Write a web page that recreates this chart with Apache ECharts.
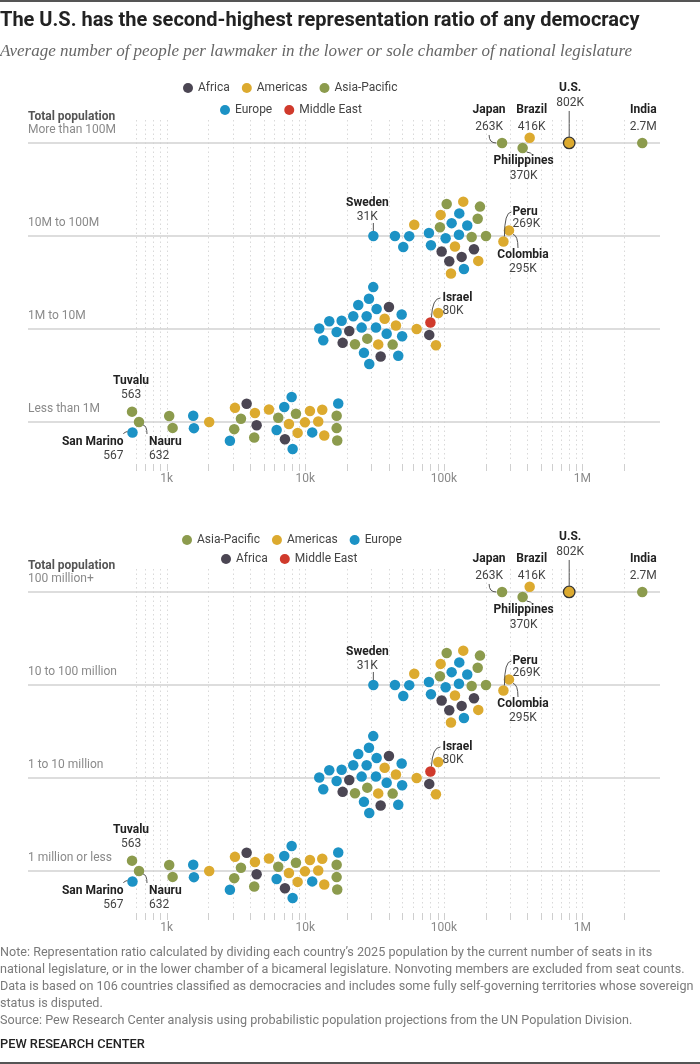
<!DOCTYPE html>
<html>
<head>
<meta charset="utf-8">
<script src="https://cdn.jsdelivr.net/npm/echarts@6/dist/echarts.min.js"></script>
<style>
  html, body { margin: 0; padding: 0; background: #fff; }
  #chart { width: 700px; height: 1064px; }
</style>
</head>
<body>
<div id="chart"></div>
<script>
// regions and colours
const regionNames = ['Africa', 'Americas', 'Asia-Pacific', 'Europe', 'Middle East'];
const regionColors = ['#4b4653', '#dcaa2f', '#8c9b4d', '#1c92c5', '#d03a2c'];

// row labels (0 = largest countries)
const rowLabelsTop = ['More than 100M', '10M to 100M', '1M to 10M', 'Less than 1M'];
const rowLabelsBottom = ['100 million+', '10 to 100 million', '1 to 10 million', '1 million or less'];

// each dot: [people per lawmaker, population row]
const africa = [
  [96400, 1], [109400, 1], [134400, 1], [164900, 1],
  [18615, 2], [20775, 2], [40175, 2], [34990, 2], [78470, 2],
  [3778, 3], [4460, 3], [7138, 3]
];
const americas = [
  [416000, 0], [802000, 0],
  [61150, 1], [94820, 1], [120250, 1], [177100, 1], [112500, 1], [138000, 1], [269000, 1], [295000, 1],
  [37410, 2], [45115, 2], [63640, 2], [33625, 2], [91100, 2], [87700, 2],
  [2029, 3], [3111, 3], [4336, 3], [5472, 3], [7628, 3], [9950, 3], [12410, 3], [8815, 3],
  [10810, 3], [13715, 3], [13267, 3]
];
const asiaPacific = [
  [263000, 0], [370000, 0], [2700000, 0],
  [175400, 1], [182200, 1], [158700, 1], [201300, 1], [93700, 1], [104800, 1],
  [28016, 2], [22840, 2], [42715, 2],
  [563, 3], [632, 3], [1044, 3], [1105, 3], [3074, 3], [3437, 3], [4286, 3], [8569, 3],
  [6387, 3], [16850, 3], [16850, 3], [17018, 3]
];
const europe = [
  [31000, 1], [44370, 1], [56270, 1], [50950, 1], [78070, 1], [80700, 1], [103000, 1],
  [128500, 1], [147500, 1], [129200, 1], [113800, 1], [139600, 1],
  [24125, 2], [32365, 2], [13490, 2], [16850, 2], [26510, 2], [32745, 2], [49615, 2],
  [12620, 2], [18310, 2], [28820, 2], [50000, 2], [14905, 2], [25520, 2], [30940, 2],
  [38670, 2], [46880, 2], [22200, 2], [27735, 2], [28960, 2],
  [567, 3], [1556, 3], [1574, 3], [2862, 3], [7979, 3], [7056, 3], [6218, 3], [8113, 3],
  [11233, 3], [17303, 3]
];
const middleEast = [[80000, 2]];
const regionData = [africa, americas, asiaPacific, europe, middleEast];

// labelled countries
const calloutNames = ['Japan', 'Brazil', 'U.S.', 'India', 'Philippines', 'Sweden', 'Peru',
  'Colombia', 'Israel', 'Tuvalu', 'San Marino', 'Nauru'];
const calloutValues = ['263K', '416K', '802K', '2.7M', '370K', '31K', '269K', '295K', '80K',
  '563', '567', '632'];
const calloutPoints = [[263000, 0], [416000, 0], [802000, 0], [2700000, 0], [370000, 0],
  [31000, 1], [269000, 1], [295000, 1], [80000, 2], [563, 3], [567, 3], [632, 3]];

// axis ticks and labels
const tickValues = [600, 700, 800, 900, 1000, 2000, 3000, 4000, 5000, 6000, 7000, 8000, 9000,
  10000, 20000, 30000, 40000, 50000, 60000, 70000, 80000, 90000,
  100000, 200000, 300000, 400000, 500000, 600000, 700000, 800000, 900000, 1000000, 2000000];
const tickLabels = { 3: '1k', 4: '10k', 5: '100k', 6: '1M' };

const noteLines = [
  'Note: Representation ratio calculated by dividing each country\u2019s 2025 population by the current number of seats in its',
  'national legislature, or in the lower chamber of a bicameral legislature. Nonvoting members are excluded from seat counts.',
  'Data is based on 106 countries classified as democracies and includes some fully self-governing territories whose sovereign',
  'status is disputed.',
  'Source: Pew Research Center analysis using probabilistic population projections from the UN Population Division.'
];

const FONT = 'Roboto, "Noto Sans", sans-serif';
const chart = echarts.init(document.getElementById('chart'));

const panelTops = [120, 569];

function tickFormatter(v) {
  const e = Math.round(Math.log10(v));
  if (Math.abs(Math.log10(v) - e) > 0.01) return '';
  return tickLabels[e] || '';
}

chart.setOption({
  animation: false,
  backgroundColor: '#fff',
  grid: panelTops.map(t => ({ left: 28, right: 40, top: t, height: 342 })),
  xAxis: panelTops.map((t, i) => ({
    type: 'log', logBase: 10, gridIndex: i, min: 100, max: 3624000,
    axisLine: { show: false }, axisTick: { show: false }, splitLine: { show: false },
    axisLabel: {
      margin: 11, color: '#8a8a8a', fontSize: 12, fontFamily: FONT,
      showMinLabel: false, showMaxLabel: false, formatter: tickFormatter
    }
  })),
  yAxis: panelTops.map((t, i) => ({
    type: 'value', gridIndex: i, inverse: true, min: -0.247, max: 3.43, show: false
  }))
});

// beeswarm: x fixed, greedy dodge in y then compact toward the row line.
// several visiting orders are tried, the most compact result is kept.
const D = 12.4;
function dodge(xs, order, preferUp) {
  const n = xs.length;
  const ys = new Array(n).fill(0);
  const placed = [];
  let balance = 0;
  const hOf = (i, j) => Math.sqrt(D * D - (xs[j] - xs[i]) ** 2);
  order.forEach(i => {
    const near = placed.filter(j => Math.abs(xs[j] - xs[i]) < D);
    const cands = [0];
    near.forEach(j => { const h = hOf(i, j); cands.push(ys[j] + h, ys[j] - h); });
    const ok = cands.filter(y => near.every(j => Math.abs(y - ys[j]) >= hOf(i, j) - 1e-6));
    const up = balance === 0 ? preferUp : balance > 0;
    ok.sort((a, b) => (Math.abs(a) - Math.abs(b)) || (up ? a - b : b - a));
    ys[i] = ok[0];
    balance += Math.sign(ys[i]);
    placed.push(i);
  });
  const collide = () => {
    for (let i = 0; i < n; i++) {
      for (let j = i + 1; j < n; j++) {
        const dx = xs[j] - xs[i];
        if (Math.abs(dx) >= D) continue;
        const h = Math.sqrt(D * D - dx * dx);
        const dy = ys[j] - ys[i];
        if (Math.abs(dy) < h) {
          const s = dy >= 0 ? 1 : -1;
          const push = (h - Math.abs(dy)) / 2;
          ys[i] -= s * push;
          ys[j] += s * push;
        }
      }
    }
  };
  for (let it = 0; it < 300; it++) {
    for (let i = 0; i < n; i++) ys[i] *= 0.985;
    for (let k = 0; k < 3; k++) collide();
  }
  for (let k = 0; k < 30; k++) collide();
  return ys;
}

function swarm(xs) {
  const n = xs.length;
  const idx = xs.map((x, i) => i);
  const sorted = xs.slice().sort((a, b) => a - b);
  const mid = sorted[Math.floor(n / 2)];
  const orders = [
    idx.slice().sort((a, b) => xs[a] - xs[b]),
    idx.slice().sort((a, b) => xs[b] - xs[a]),
    idx.slice().sort((a, b) => Math.abs(xs[a] - mid) - Math.abs(xs[b] - mid))
  ];
  let best = null, bestScore = Infinity;
  orders.forEach(o => [false, true].forEach(up => {
    const ys = dodge(xs, o, up);
    const score = ys.reduce((s, y) => s + y * y, 0);
    if (score < bestScore - 1e-6) { bestScore = score; best = ys; }
  }));
  return best;
}

const toPx = (p, v, r) => chart.convertToPixel({ xAxisIndex: p, yAxisIndex: p }, [v, r]);
const pxPerRow = toPx(0, 1000, 1)[1] - toPx(0, 1000, 0)[1];

// lay out every row once (both panels share the same scale); top row swarm is mirrored
const swarmFlip = [-1, 1, 1, 1];
const placedDots = regionData.map(arr => arr.map(() => null));
for (let r = 0; r < 4; r++) {
  const members = [];
  regionData.forEach((arr, k) => arr.forEach((d, i) => { if (d[1] === r) members.push([k, i]); }));
  const xs = members.map(([k, i]) => toPx(0, regionData[k][i][0], r)[0]);
  const ys = swarm(xs);
  members.forEach(([k, i], m) => {
    placedDots[k][i] = [regionData[k][i][0], r + swarmFlip[r] * ys[m] / pxPerRow];
  });
}

function findDot(v, r) {
  for (let k = 0; k < regionData.length; k++) {
    for (let i = 0; i < regionData[k].length; i++) {
      if (regionData[k][i][0] === v && regionData[k][i][1] === r) return placedDots[k][i];
    }
  }
  return [v, r];
}

const series = [];
panelTops.forEach((t, p) => {
  // row lines
  series.push({
    type: 'custom', xAxisIndex: p, yAxisIndex: p, silent: true, z: 1,
    data: [0, 1, 2, 3].map(r => [1000, r]),
    renderItem: (params, api) => {
      const cs = params.coordSys;
      const y = api.coord([1000, api.value(1)])[1];
      return { type: 'line', shape: { x1: cs.x, y1: y, x2: cs.x + cs.width, y2: y },
        style: { stroke: '#d2d2d2', lineWidth: 1.5 } };
    }
  });
  // dotted grid and ticks
  series.push({
    type: 'custom', xAxisIndex: p, yAxisIndex: p, silent: true, z: 0,
    data: tickValues.map(v => [v, 0]),
    renderItem: (params, api) => {
      const cs = params.coordSys;
      const x = Math.round(api.coord([api.value(0), 0])[0]) + 0.5;
      return { type: 'group', children: [
        { type: 'line', shape: { x1: x, y1: cs.y, x2: x, y2: cs.y + cs.height },
          style: { stroke: '#d9d9d9', lineWidth: 1, lineDash: [1.5, 3] } },
        { type: 'line', shape: { x1: x, y1: cs.y + cs.height + 2, x2: x, y2: cs.y + cs.height + 9 },
          style: { stroke: '#cfcfcf', lineWidth: 1 } }
      ] };
    }
  });
  regionNames.forEach((name, k) => {
    series.push({
      type: 'scatter', name: name, xAxisIndex: p, yAxisIndex: p, z: 3, silent: true,
      symbolSize: 10.5, itemStyle: { color: regionColors[k], opacity: 1 },
      emphasis: { disabled: true },
      data: placedDots[k].map(d => d[0] === 802000 && d[1] < 0.5
        ? { value: d, symbolSize: 11.5, itemStyle: { borderColor: '#333', borderWidth: 1.3 } }
        : d)
    });
  });
});

// text and callouts
const graphics = [];
const text = (x, y, str, font, fill, align, extra) => graphics.push({
  type: 'text', x: x, y: y, silent: true, z: 10,
  style: Object.assign({ text: str, font: font, fill: fill, align: align || 'left',
    textAlign: align || 'left', verticalAlign: 'middle', textVerticalAlign: 'middle' }, extra || {})
});
const curve = (x1, y1, cx, cy, x2, y2) => graphics.push({
  type: 'bezierCurve', silent: true, z: 10,
  shape: { x1: x1, y1: y1, cpx1: cx, cpy1: cy, x2: x2, y2: y2 },
  style: { stroke: '#555', lineWidth: 1, fill: null }
});

graphics.push({ type: 'rect', shape: { x: 0, y: 0, width: 700, height: 2 }, style: { fill: '#555' } });
graphics.push({ type: 'rect', shape: { x: 0, y: 1062, width: 700, height: 2 }, style: { fill: '#555' } });
text(0, 21, 'The U.S. has the second-highest representation ratio of any democracy',
  'bold 20px ' + FONT, '#222');
text(0, 52, 'Average number of people per lawmaker in the lower or sole chamber of national legislature',
  'italic 17px "Liberation Serif", serif', '#666');
text(0, 944, noteLines.join('\n'), '12.6px ' + FONT, '#7a7a7a', 'left',
  { lineHeight: 17, verticalAlign: 'top', textVerticalAlign: 'top' });
text(0, 1045, 'PEW RESEARCH CENTER', '500 12.8px ' + FONT, '#222');

const nameFont = 'bold 12px ' + FONT;
const valFont = '12px ' + FONT;

panelTops.forEach((t, p) => {
  const rowY = r => toPx(p, 1000, r)[1];
  const rowLabels = p === 0 ? rowLabelsTop : rowLabelsBottom;
  text(28, rowY(0) - 26, 'Total population', 'bold 12px ' + FONT, '#555');
  rowLabels.forEach((lab, r) => text(28, rowY(r) - 13, lab, '12px ' + FONT, '#8a8a8a'));

  calloutNames.forEach((nm, c) => {
    const pt = calloutPoints[c];
    const dot = findDot(pt[0], pt[1]);
    const X = toPx(p, pt[0], pt[1])[0];
    const Y = rowY(pt[1]);
    const Yd = toPx(p, dot[0], dot[1])[1];
    const lab = (dx, dn, dv, align) => {
      text(X + dx, Y + dn, nm, nameFont, '#222', align);
      text(X + dx, Y + dv, calloutValues[c], valFont, '#444', align);
    };
    switch (nm) {
      case 'Japan': lab(-13, -33, -16, 'center');
        curve(X - 13, Y - 8, X - 13, Yd, X - 6, Yd); break;
      case 'Brazil': lab(2, -33, -16, 'center'); break;
      case 'India': lab(1, -33, -16, 'center'); break;
      case 'U.S.': lab(1, -55, -40, 'center');
        curve(X, Y - 32, X, Y - 20, X, Yd - 6); break;
      case 'Philippines': lab(1, 18, 33, 'center');
        curve(X + 4, Yd + 4, X + 9, Yd + 5, X + 9, Y + 11); break;
      case 'Sweden': lab(-6, -33, -19, 'center');
        curve(X, Y - 13, X, Y - 9, X, Yd - 5); break;
      case 'Peru': lab(9, -24, -12, 'left');
        curve(X + 1, Yd - 5, X + 1, Y - 24, X + 8, Y - 24); break;
      case 'Colombia': lab(14, 19, 33, 'center');
        curve(X + 4, Yd + 4, X + 9, Yd + 5, X + 9, Y + 12); break;
      case 'Israel': lab(12, -31, -18, 'left');
        curve(X + 1, Yd - 5, X + 2, Y - 31, X + 10, Y - 31); break;
      case 'Tuvalu': lab(-1, -41, -27, 'center'); break;
      case 'San Marino': lab(-9, 20, 34, 'right');
        curve(X - 5, Yd - 1, X - 9, Yd, X - 9, Y + 12); break;
      case 'Nauru': lab(10, 20, 34, 'left');
        curve(X + 4, Yd + 3, X + 8, Yd + 4, X + 8, Y + 12); break;
    }
  });
});

const legendBase = {
  icon: 'circle', itemWidth: 10, itemHeight: 10, itemGap: 12, selectedMode: false,
  textStyle: { color: '#444', fontSize: 12, fontFamily: FONT }, padding: 0
};

chart.setOption({
  legend: [
    Object.assign({ data: ['Africa', 'Americas', 'Asia-Pacific'], left: 183, top: 82 }, legendBase),
    Object.assign({ data: ['Europe', 'Middle East'], left: 220, top: 104 }, legendBase),
    Object.assign({ data: ['Asia-Pacific', 'Americas', 'Europe'], left: 182, top: 534 }, legendBase),
    Object.assign({ data: ['Africa', 'Middle East'], left: 221, top: 553 }, legendBase)
  ],
  series: series,
  graphic: { elements: graphics }
});
</script>
</body>
</html>
